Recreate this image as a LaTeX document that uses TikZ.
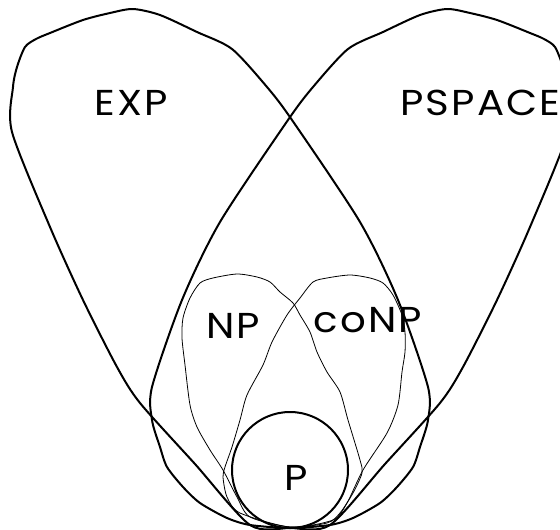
\documentclass[tikz,border=0pt]{standalone}
\usepackage{fontspec}
\newfontfamily\classfont[FakeStretch=1.12, LetterSpace=6]{Poppins}
\newcommand{\lobeoutline}{plot[smooth cycle, tension=0.45] coordinates {(133,9) (160,15) (197,32) (232,49) (267,87) (292,120) (360,222) (398,300) (428,387) (428,420) (420,447) (413,467) (397,487) (380,503) (353,518) (330,525) (290,528) (250,525) (195,464) (140,403) (117,367) (83,300) (50,227) (12,132) (13,87) (17,67) (25,47) (36,39) (50,33) (83,20) (110,13)}}
\begin{document}
\begin{tikzpicture}[x=1pt, y=-1pt,
        outline/.style={line width=2pt, line join=round},
        inner/.style={line width=0.8pt, line join=round},
        classname/.style={font=\classfont\fontsize{36}{40}\selectfont, inner sep=0pt, anchor=base}]

        \useasboundingbox (0,0) rectangle (560,530);
        \clip (0,0) rectangle (560,530);
        \draw[outline] \lobeoutline;
        \begin{scope}[shift={(580,0)}, xscale=-1]
        \draw[outline] \lobeoutline;
        \end{scope}
        \draw[inner] plot[smooth cycle, tension=0.45] coordinates {(213,278) (237,274) (257,277) (270,282) (280,292) (293,303) (300,315) (310,332) (317,352) (327,372) (340,392) (348,420) (360,460) (362,473) (353,493) (340,513) (327,523) (290,527) (250,517) (237,497) (223,470) (210,450) (197,427) (190,405) (185,365) (182,338) (183,318) (190,298) (200,283)};
        \draw[inner] plot[smooth cycle, tension=0.45] coordinates {(327,278) (350,275) (370,278) (383,283) (393,295) (402,315) (405,332) (405,352) (402,372) (398,405) (387,433) (363,470) (347,503) (333,520) (290,527) (240,513) (227,497) (223,477) (225,467) (232,447) (240,420) (247,395) (263,365) (272,342) (287,315) (300,298) (313,282)};
        \draw[outline] (290,470) circle (58);
        \node[classname] (exp) at (131,115) {EXP};
        \node[classname, anchor=base west] (pspace) at (400,115) {PSPACE};
        \node[classname] (np) at (233,338) {NP};
        \node[classname] (conp) at (368,332) {coNP};
        \node[classname] (p) at (296,490) {P};
    \end{tikzpicture}
\end{document}
